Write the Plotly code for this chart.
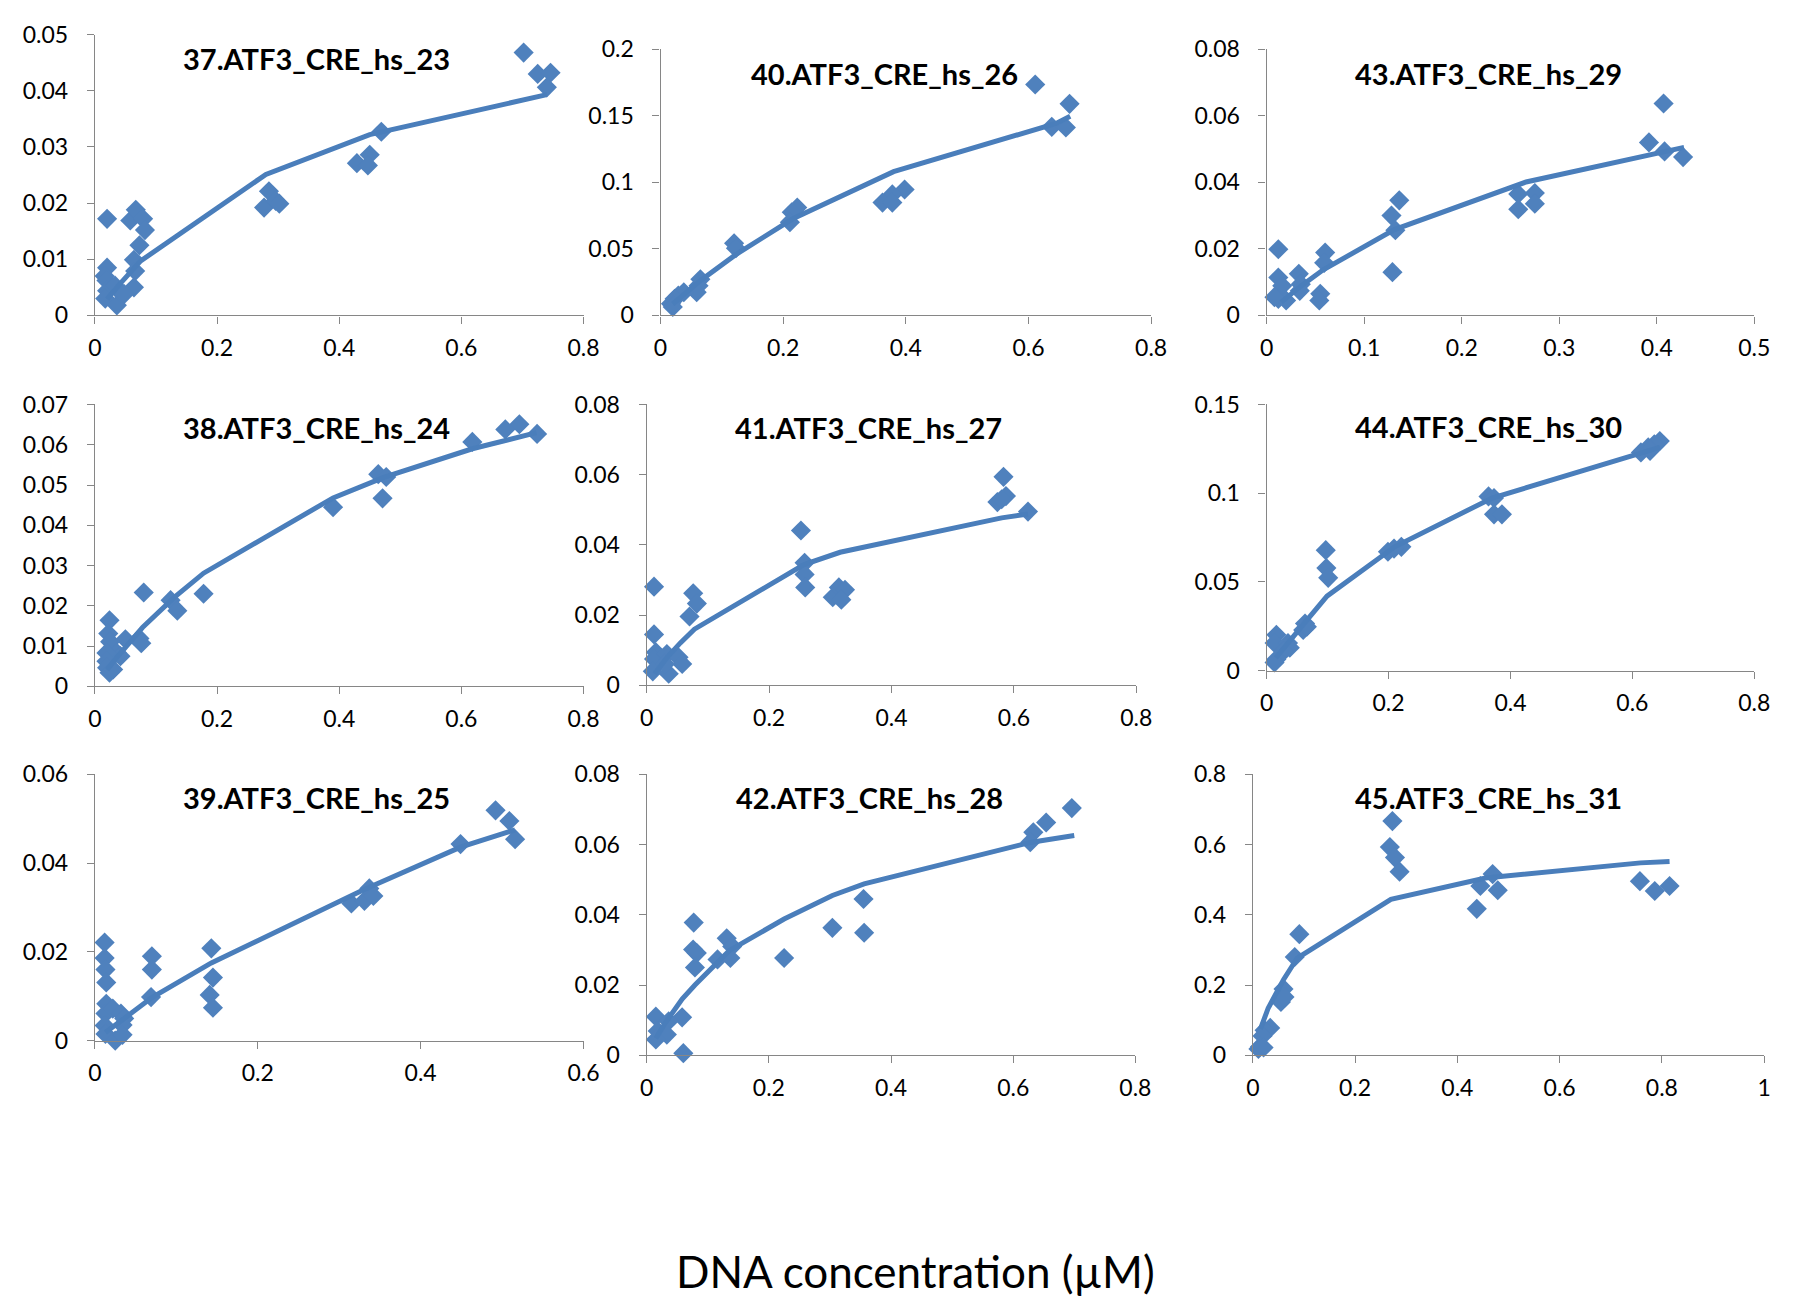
import plotly.graph_objects as go

# ---------------- data ----------------
titles = ["37.ATF3_CRE_hs_23", "40.ATF3_CRE_hs_26", "43.ATF3_CRE_hs_29",
          "38.ATF3_CRE_hs_24", "41.ATF3_CRE_hs_27", "44.ATF3_CRE_hs_30",
          "39.ATF3_CRE_hs_25", "42.ATF3_CRE_hs_28", "45.ATF3_CRE_hs_31"]

x37 = [0.020, 0.702, 0.725, 0.746, 0.740, 0.469, 0.429, 0.450, 0.447, 0.277, 0.285, 0.296, 0.302, 0.058, 0.067,
       0.079, 0.082, 0.073, 0.064, 0.066, 0.064, 0.020, 0.016, 0.019, 0.020, 0.017, 0.036, 0.042, 0.033, 0.048]
y37 = [0.0172, 0.0468, 0.0430, 0.0432, 0.0406, 0.0327, 0.0271, 0.0286, 0.0267, 0.0192, 0.0221, 0.0204, 0.0199, 0.0169, 0.0188,
       0.0172, 0.0152, 0.0125, 0.0099, 0.0079, 0.0050, 0.0085, 0.0070, 0.0062, 0.0044, 0.0030, 0.0018, 0.0041, 0.0053, 0.0038]
fx37 = [0.02, 0.04, 0.075, 0.28, 0.45, 0.74]
fy37 = [0.0029, 0.0055, 0.0097, 0.0251, 0.0322, 0.0393]

x40 = [0.611, 0.667, 0.638, 0.661, 0.398, 0.378, 0.362, 0.378, 0.223, 0.214, 0.211, 0.120, 0.123, 0.065, 0.062,
       0.059, 0.038, 0.029, 0.023, 0.017, 0.020]
y40 = [0.1735, 0.159, 0.1417, 0.1412, 0.0946, 0.0909, 0.0848, 0.0848, 0.0811, 0.0775, 0.0701, 0.0542, 0.0505, 0.0272, 0.0223,
       0.0174, 0.0174, 0.0150, 0.0125, 0.0088, 0.0064]
fx40 = [0.02, 0.035, 0.062, 0.122, 0.215, 0.38, 0.645, 0.668]
fy40 = [0.0086, 0.0147, 0.0251, 0.0455, 0.0724, 0.108, 0.1443, 0.1497]

x43 = [0.012, 0.407, 0.392, 0.408, 0.427, 0.258, 0.258, 0.275, 0.275, 0.136, 0.128, 0.132, 0.129, 0.060, 0.059,
       0.055, 0.054, 0.033, 0.035, 0.034, 0.012, 0.016, 0.012, 0.020, 0.008]
y43 = [0.0199, 0.0637, 0.0520, 0.0493, 0.0476, 0.0365, 0.0319, 0.0368, 0.0336, 0.0346, 0.0300, 0.0256, 0.0130, 0.0189, 0.0158,
       0.0065, 0.0045, 0.0125, 0.0094, 0.0074, 0.0114, 0.0089, 0.0050, 0.0045, 0.0055]
fx43 = [0.015, 0.035, 0.058, 0.131, 0.266, 0.407, 0.428]
fy43 = [0.0040, 0.0088, 0.0137, 0.0258, 0.0401, 0.0494, 0.0505]

x38 = [0.695, 0.672, 0.724, 0.618, 0.464, 0.477, 0.471, 0.390, 0.080, 0.178, 0.124, 0.135, 0.073, 0.076, 0.050,
       0.024, 0.022, 0.025, 0.036, 0.042, 0.019, 0.019, 0.020, 0.024, 0.030]
y38 = [0.0651, 0.0638, 0.0627, 0.0607, 0.0527, 0.0520, 0.0467, 0.0445, 0.0233, 0.0230, 0.0214, 0.0188, 0.0119, 0.0107, 0.0117,
       0.0164, 0.0131, 0.0111, 0.0083, 0.0075, 0.0083, 0.0062, 0.0046, 0.0034, 0.0042]
fx38 = [0.02, 0.035, 0.078, 0.13, 0.178, 0.39, 0.473, 0.618, 0.723]
fy38 = [0.0041, 0.0070, 0.0146, 0.0221, 0.0281, 0.0468, 0.0519, 0.0590, 0.0630]

x41 = [0.583, 0.573, 0.587, 0.580, 0.623, 0.252, 0.258, 0.258, 0.259, 0.304, 0.314, 0.324, 0.318, 0.012, 0.012,
       0.076, 0.082, 0.070, 0.015, 0.012, 0.010, 0.033, 0.036, 0.052, 0.058, 0.030]
y41 = [0.0594, 0.0522, 0.0539, 0.0530, 0.0495, 0.0441, 0.0349, 0.0316, 0.0279, 0.0251, 0.0279, 0.0272, 0.0244, 0.0281, 0.0145,
       0.0262, 0.0233, 0.0196, 0.0094, 0.0075, 0.0040, 0.0089, 0.0033, 0.0080, 0.0061, 0.0061]
fx41 = [0.013, 0.033, 0.055, 0.078, 0.257, 0.316, 0.58, 0.623]
fy41 = [0.0033, 0.0079, 0.0121, 0.0160, 0.0344, 0.0379, 0.0477, 0.0488]

x44 = [0.645, 0.636, 0.626, 0.614, 0.629, 0.364, 0.373, 0.373, 0.386, 0.199, 0.221, 0.209, 0.097, 0.098, 0.101,
       0.063, 0.060, 0.066, 0.016, 0.013, 0.035, 0.038, 0.028, 0.016, 0.013]
y44 = [0.1294, 0.1276, 0.1258, 0.1230, 0.1239, 0.0982, 0.0973, 0.0881, 0.0881, 0.0670, 0.0698, 0.0688, 0.0679, 0.0578, 0.0523,
       0.0266, 0.0229, 0.0248, 0.0202, 0.0156, 0.0156, 0.0129, 0.0110, 0.0064, 0.0046]
fx44 = [0.015, 0.032, 0.063, 0.099, 0.21, 0.37, 0.63, 0.645]
fy44 = [0.0072, 0.0145, 0.0272, 0.0420, 0.0698, 0.0973, 0.1240, 0.1258]

x39 = [0.492, 0.509, 0.516, 0.449, 0.315, 0.331, 0.337, 0.342, 0.143, 0.145, 0.141, 0.145, 0.070, 0.070, 0.069,
       0.012, 0.012, 0.013, 0.014, 0.014, 0.013, 0.012, 0.013, 0.022, 0.032, 0.036, 0.034, 0.025, 0.034]
y39 = [0.0519, 0.0495, 0.0454, 0.0443, 0.0309, 0.0315, 0.0343, 0.0326, 0.0208, 0.0142, 0.0103, 0.0074, 0.0190, 0.0160, 0.0098,
       0.0221, 0.0186, 0.0160, 0.0131, 0.0083, 0.0061, 0.0034, 0.0015, 0.0072, 0.0061, 0.0050, 0.0035, 0.0000, 0.0013]
fx39 = [0.013, 0.032, 0.07, 0.143, 0.33, 0.449, 0.516]
fy39 = [0.0018, 0.0045, 0.0097, 0.0175, 0.0340, 0.0436, 0.0475]

x42 = [0.696, 0.654, 0.633, 0.628, 0.355, 0.356, 0.304, 0.225, 0.077, 0.076, 0.082, 0.079, 0.116, 0.131, 0.140,
       0.137, 0.058, 0.060, 0.015, 0.036, 0.018, 0.033, 0.015]
y42 = [0.0704, 0.0663, 0.0635, 0.0607, 0.0445, 0.0349, 0.0363, 0.0277, 0.0378, 0.0301, 0.0291, 0.0250, 0.0273, 0.0333, 0.0310,
       0.0277, 0.0108, 0.0006, 0.0110, 0.0097, 0.0069, 0.0059, 0.0045]
fx42 = [0.015, 0.03, 0.058, 0.079, 0.135, 0.225, 0.304, 0.356, 0.63, 0.70]
fy42 = [0.0048, 0.0091, 0.0160, 0.0200, 0.0298, 0.0388, 0.0455, 0.0488, 0.0607, 0.0626]

x45 = [0.273, 0.268, 0.278, 0.287, 0.757, 0.786, 0.815, 0.469, 0.445, 0.479, 0.438, 0.091, 0.082, 0.060, 0.055,
       0.062, 0.034, 0.023, 0.019, 0.014, 0.011, 0.021]
y45 = [0.667, 0.593, 0.563, 0.523, 0.496, 0.468, 0.482, 0.516, 0.482, 0.470, 0.417, 0.345, 0.280, 0.189, 0.152,
       0.166, 0.078, 0.071, 0.055, 0.024, 0.018, 0.022]
fx45 = [0.015, 0.03, 0.06, 0.087, 0.27, 0.455, 0.758, 0.815]
fy45 = [0.075, 0.134, 0.215, 0.277, 0.444, 0.505, 0.548, 0.552]

x_max = [0.8, 0.8, 0.5, 0.8, 0.8, 0.8, 0.6, 0.8, 1.0]
x_step = [0.2, 0.2, 0.1, 0.2, 0.2, 0.2, 0.2, 0.2, 0.2]
y_max = [0.05, 0.2, 0.08, 0.07, 0.08, 0.15, 0.06, 0.08, 0.8]
y_step = [0.01, 0.05, 0.02, 0.01, 0.02, 0.05, 0.02, 0.02, 0.2]

x_label = "DNA concentration (µM)"

# ---------------- layout geometry (pixels) ----------------
W, H = 1793, 1309
# plot boxes: left, right, top, bottom
boxes = [
    (89, 584, 20, 307), (662, 1159, 35, 307), (1276, 1770, 35, 307),
    (89, 584, 398, 686), (648, 1144, 398, 685), (1276, 1770, 398, 670),
    (89, 584, 776, 1048), (648, 1143, 776, 1063), (1262, 1780, 776, 1063),
]
title_pos = [(314, 44), (889, 60), (1501, 60),
             (314, 422), (873, 422), (1501, 421),
             (314, 800), (874, 800), (1501, 800)]

MARK = "#4F81BD"
LINE = "#4A7EBB"
AXC = "#868686"
FONT = "Lato"

points = [(x37, y37), (x40, y40), (x43, y43), (x38, y38), (x41, y41),
          (x44, y44), (x39, y39), (x42, y42), (x45, y45)]
fits = [(fx37, fy37), (fx40, fy40), (fx43, fy43), (fx38, fy38), (fx41, fy41),
        (fx44, fy44), (fx39, fy39), (fx42, fy42), (fx45, fy45)]

fig = go.Figure()
layout = dict(width=W, height=H, margin=dict(l=0, r=0, t=0, b=0),
              plot_bgcolor="white", paper_bgcolor="white", showlegend=False,
              annotations=[])

for i in range(9):
    n = "" if i == 0 else str(i + 1)
    xa, ya = "x" + n, "y" + n
    px, py = points[i]
    fxv, fyv = fits[i]
    fig.add_trace(go.Scatter(x=px, y=py, mode="markers", xaxis=xa, yaxis=ya,
                             marker=dict(symbol="diamond", size=15.5, color=MARK,
                                         line=dict(width=0)),
                             cliponaxis=False))
    fig.add_trace(go.Scatter(x=fxv, y=fyv, mode="lines", xaxis=xa, yaxis=ya,
                             line=dict(color=LINE, width=5), cliponaxis=False))
    l, r, t, b = boxes[i]
    common = dict(showgrid=False, zeroline=False, showline=True, linecolor=AXC,
                  linewidth=1.3, ticks="outside", ticklen=7, tickcolor=AXC,
                  tickwidth=1.3, tick0=0,
                  tickfont=dict(family=FONT, size=23, color="black"))
    layout["xaxis" + n] = dict(domain=[l / W, r / W], range=[0, x_max[i] * 1.0000001],
                               dtick=x_step[i], anchor=ya, ticklabelstandoff=5,
                               **common)
    layout["yaxis" + n] = dict(domain=[1 - b / H, 1 - t / H], range=[0, y_max[i] * 1.0000001],
                               dtick=y_step[i], anchor=xa, ticklabelstandoff=14,
                               **common)
    tx, ty = title_pos[i]
    layout["annotations"].append(dict(
        text="<b>" + titles[i] + "</b>", x=tx / W, y=1 - ty / H,
        xref="paper", yref="paper", xanchor="center", yanchor="middle",
        showarrow=False, font=dict(family=FONT, size=29, color="black")))

layout["annotations"].append(dict(
    text=x_label, x=920 / W, y=1 - 1283 / H, xref="paper", yref="paper",
    xanchor="center", yanchor="middle", showarrow=False,
    font=dict(family=FONT, size=44, color="black")))

fig.update_layout(**layout)
fig.write_html("out.html")
